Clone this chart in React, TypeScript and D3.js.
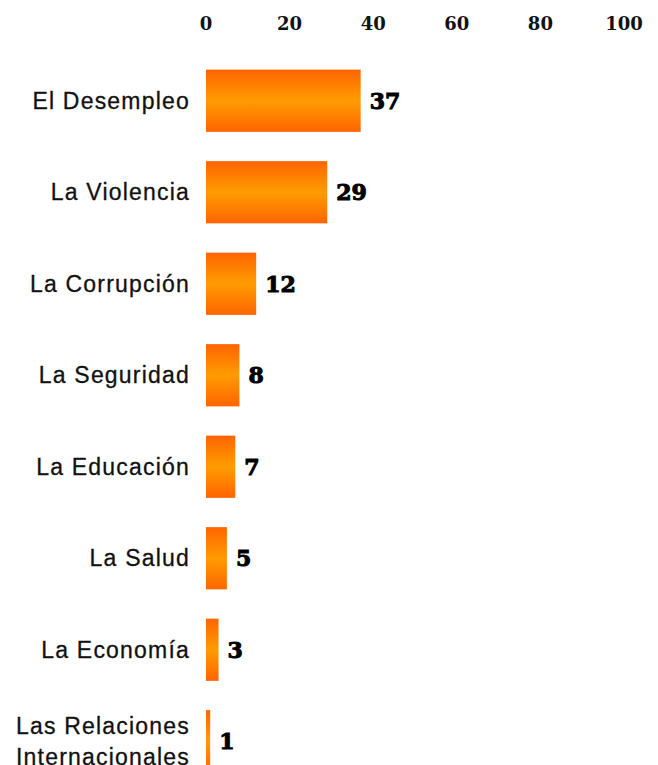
import React from 'react'
import * as d3 from 'd3'

const categories = [
  'El Desempleo',
  'La Violencia',
  'La Corrupción',
  'La Seguridad',
  'La Educación',
  'La Salud',
  'La Economía',
  'Las Relaciones Internacionales',
]
const values = [37, 29, 12, 8, 7, 5, 3, 1]
const ticks = [0, 20, 40, 60, 80, 100]

const W = 658
const H = 765

export default function App() {
  const x = d3.scaleLinear().domain([0, 100]).range([206, 624])
  const y = d3
    .scaleBand<string>()
    .domain(categories)
    .range([55, 787])
    .paddingInner(0.32)
    .paddingOuter(0.16)

  // long labels are split in two lines
  const splitLabel = (s: string) => {
    if (s.length < 20) return [s]
    const i = s.indexOf(' ', 4)
    return [s.slice(0, i), s.slice(i + 1)]
  }

  return (
    <svg
      width={W}
      height={H}
      style={{ position: 'absolute', left: 0, top: 0 }}
    >
      <defs>
        <linearGradient id="barGrad" x1="0" y1="0" x2="0" y2="1">
          <stop offset="0%" stopColor="#ff6400" />
          <stop offset="50%" stopColor="#ff9c00" />
          <stop offset="100%" stopColor="#ff6400" />
        </linearGradient>
      </defs>

      {ticks.map((t) => (
        <text
          key={t}
          x={x(t)}
          y={30}
          textAnchor="middle"
          fontFamily="'DejaVu Serif', serif"
          fontWeight="bold"
          fontSize={18}
          fill="#111"
        >
          {t}
        </text>
      ))}

      {categories.map((c, i) => {
        const y0 = y(c) as number
        const cy = y0 + y.bandwidth() / 2
        const lines = splitLabel(c)
        return (
          <g key={c}>
            <rect
              x={x(0)}
              y={y0}
              width={x(values[i]) - x(0)}
              height={y.bandwidth()}
              fill="url(#barGrad)"
            />
            <text
              x={x(values[i]) + 9}
              y={cy}
              dy="0.36em"
              fontFamily="'DejaVu Serif', serif"
              fontWeight="bold"
              fontSize={22}
              fill="#000"
              stroke="#000"
              strokeWidth={1}
            >
              {values[i]}
            </text>
            <text
              x={190}
              y={cy}
              textAnchor="end"
              fontFamily="'Liberation Sans', Arial, sans-serif"
              fontSize={23}
              letterSpacing={1.2}
              fill="#111"
              stroke="#111"
              strokeWidth={0.3}
            >
              {lines.map((l, k) => (
                <tspan
                  key={k}
                  x={190}
                  dy={k === 0 ? `${0.35 - (lines.length - 1) * 0.68}em` : '1.36em'}
                >
                  {l}
                </tspan>
              ))}
            </text>
          </g>
        )
      })}
    </svg>
  )
}
